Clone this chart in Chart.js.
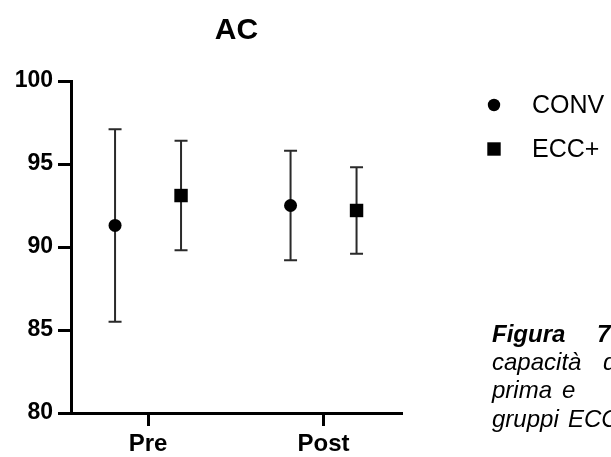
<!DOCTYPE html>
<html>
<head>
<meta charset="utf-8">
<title>AC</title>
<script src="https://cdn.jsdelivr.net/npm/chart.js@4.4.1/dist/chart.umd.min.js"></script>
<style>
  body { margin: 0; background: #fff; }
  #wrap { width: 611px; height: 457px; }
</style>
</head>
<body>
<div id="wrap"><canvas id="acChart"></canvas></div>
<script>
// dati (media ± DS)
const timepoints = ["Pre", "Post"];
const groups = ["CONV", "ECC+"];
const convMean = [91.3, 92.5];
const convSd = [5.8, 3.3];
const eccMean = [93.1, 92.2];
const eccSd = [3.3, 2.6];
const yTicks = [80, 85, 90, 95, 100];

const FONT = '"Liberation Sans", Arial, Helvetica, sans-serif';
const dodge = [-0.188, 0.188];   // spostamento dei due gruppi attorno a Pre / Post
const markers = ["circle", "rect"];
const radii = [6.5, 9.5];

function points(means, sds, g) {
  return timepoints.map((t, i) => ({ x: i + dodge[g], y: means[i], sd: sds[i] }));
}

const errorBars = {
  id: "errorBars",
  beforeDatasetsDraw(chart) {
    const { ctx, scales: { x, y } } = chart;
    ctx.save();
    ctx.strokeStyle = "#2a2a2a";
    ctx.lineWidth = 2;
    chart.data.datasets.forEach(ds => {
      ds.data.forEach(p => {
        const px = x.getPixelForValue(p.x);
        const top = y.getPixelForValue(p.y + p.sd);
        const bot = y.getPixelForValue(p.y - p.sd);
        ctx.beginPath();
        ctx.moveTo(px, top); ctx.lineTo(px, bot);
        ctx.moveTo(px - 6.5, top); ctx.lineTo(px + 6.5, top);
        ctx.moveTo(px - 6.5, bot); ctx.lineTo(px + 6.5, bot);
        ctx.stroke();
      });
    });
    ctx.restore();
  }
};

// titolo, legenda e didascalia tagliata a destra
const extras = {
  id: "extras",
  afterDraw(chart) {
    const ctx = chart.ctx;
    const area = chart.chartArea;
    ctx.save();
    ctx.fillStyle = "#000";
    ctx.textAlign = "center";
    ctx.textBaseline = "alphabetic";
    ctx.font = "bold 30px " + FONT;
    ctx.fillText("AC", (area.left + area.right) / 2, 39);

    // legenda
    ctx.textAlign = "left";
    ctx.textBaseline = "middle";
    ctx.font = "25px " + FONT;
    chart.data.datasets.forEach((ds, i) => {
      const ly = 105 + i * 44;
      ctx.beginPath();
      if (ds.pointStyle === "circle") {
        ctx.arc(494, ly, 6.2, 0, Math.PI * 2);
      } else {
        ctx.rect(494 - 6.7, ly - 6.7, 13.4, 13.4);
      }
      ctx.fill();
      ctx.fillText(ds.label, 532, ly + 1);
    });

    // didascalia
    ctx.textBaseline = "alphabetic";
    ctx.font = "italic bold 24px " + FONT;
    ctx.fillText("Figura", 492, 342);
    ctx.fillText("7", 597, 342);
    ctx.font = "italic 24px " + FONT;
    ctx.fillText("capacità", 492, 370);
    ctx.fillText("di", 603, 370);
    ctx.fillText("prima", 492, 398);
    ctx.fillText("e", 562, 398);
    ctx.fillText("gruppi", 492, 427);
    ctx.fillText("ECC+", 568, 427);
    ctx.restore();
  }
};

new Chart(document.getElementById("acChart"), {
  type: "scatter",
  data: {
    datasets: [
      {
        label: groups[0],
        data: points(convMean, convSd, 0),
        pointStyle: markers[0],
        pointRadius: radii[0],
        pointHoverRadius: radii[0],
        backgroundColor: "#000",
        borderColor: "#000",
        borderWidth: 0
      },
      {
        label: groups[1],
        data: points(eccMean, eccSd, 1),
        pointStyle: markers[1],
        pointRadius: radii[1],
        pointHoverRadius: radii[1],
        backgroundColor: "#000",
        borderColor: "#000",
        borderWidth: 0
      }
    ]
  },
  options: {
    responsive: true,
    maintainAspectRatio: false,
    animation: false,
    layout: { padding: { left: 0, right: 209, top: 81, bottom: 0 } },
    plugins: {
      legend: { display: false },
      title: { display: false },
      tooltip: { enabled: false }
    },
    scales: {
      x: {
        type: "linear",
        min: -0.439,
        max: 1.447,
        afterBuildTicks: scale => { scale.ticks = timepoints.map((t, i) => ({ value: i })); },
        afterFit: scale => { scale.height = 44; },
        ticks: {
          callback: v => timepoints[v],
          color: "#000",
          padding: 4,
          maxRotation: 0,
          font: { family: FONT, size: 24, weight: "bold" }
        },
        grid: {
          display: true,
          drawOnChartArea: false,
          drawTicks: true,
          tickLength: 13,
          tickWidth: 3,
          tickColor: "#000"
        },
        border: { display: true, color: "#000", width: 3 }
      },
      y: {
        min: 80,
        max: 100,
        afterBuildTicks: scale => { scale.ticks = yTicks.map(v => ({ value: v })); },
        afterFit: scale => { scale.width = 71; },
        ticks: {
          color: "#000",
          padding: 5,
          font: { family: FONT, size: 23, weight: "bold" }
        },
        grid: {
          display: true,
          drawOnChartArea: false,
          drawTicks: true,
          tickLength: 13,
          tickWidth: 3,
          tickColor: "#000"
        },
        border: { display: true, color: "#000", width: 3 }
      }
    }
  },
  plugins: [errorBars, extras]
});
</script>
</body>
</html>
